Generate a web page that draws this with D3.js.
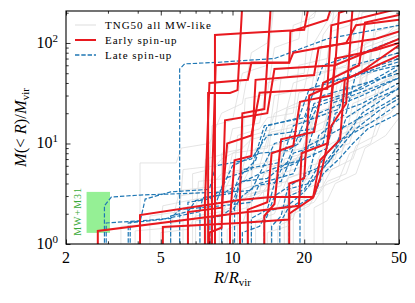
<!DOCTYPE html>
<html>
<head>
<meta charset="utf-8">
<script src="https://cdn.jsdelivr.net/npm/d3@7"></script>
<style>
  body { margin: 0; background: #fff; }
  svg { display: block; }
  text { font-family: "Liberation Serif", "DejaVu Serif", serif; }
</style>
</head>
<body>
<div id="chart"></div>
<script>
// axis ticks
var xTicks = [2, 5, 10, 20, 50];
var xMinorTicks = [3, 4, 6, 7, 8, 9, 30, 40];
var yTicks = [1, 10, 100];
var yTickExp = ["0", "1", "2"];
var yMinorTicks = [2, 3, 4, 5, 6, 7, 8, 9, 20, 30, 40, 50, 60, 70, 80, 90, 200];

var legendLabels = ["TNG50 all MW-like", "Early spin-up", "Late spin-up"];

// MW+M31 band: [R0, R1], [M0, M1]
var mwRange = [2.44, 3.06];
var mwMass = [1.29, 3.3];

// each curve: [R/Rvir, M(<R)/Mvir] points
var tngLines = [
  [[4.09,0.5],[4.09,6.4],[5.8,6.4],[6.1,9],[8,10],[9,20],[11,25],[12,80],[14,100],[15,260]],
  [[3.4,0.5],[3.4,1.5],[5,1.6],[5.1,2.4],[7,2.8],[9,3],[10,5],[13,6],[15,20],[22,30],[24,120],[30,260]],
  [[4.5,0.5],[4.5,1.9],[6,2.1],[6.2,5.5],[8.5,6],[9,7],[11,9],[12,11],[16,13],[18,40],[30,60],[35,260]],
  [[5.5,0.5],[5.5,1.6],[7,1.8],[7.2,4.2],[9.5,4.5],[10,8],[14,9],[15,30],[20,35],[22,100],[28,260]],
  [[6.2,0.5],[6.2,2.3],[8,2.5],[8.3,3.6],[11,4],[12,6],[16,7],[17,15],[25,20],[28,70],[40,110],[50,140]],
  [[7,0.5],[7,1.7],[9,1.9],[9.5,2.6],[12,3],[14,3.4],[15,6],[19,7],[21,14],[26,18],[28,50],[50,80]],
  [[7.8,0.5],[7.8,3.2],[10,3.5],[10.5,12],[13,14],[14,18],[18,20],[19,60],[25,70],[27,260]],
  [[8.8,0.5],[8.8,2],[10.5,2.3],[11,3.5],[13,4],[14,5.8],[18,6.5],[20,9],[24,11],[26,30],[36,40],[40,130],[50,150]],
  [[9.5,0.5],[9.5,1.4],[11,1.6],[12,2.8],[16,3.2],[17,4.5],[22,5.5],[24,9],[30,12],[32,25],[45,35],[50,60]],
  [[10.5,0.5],[10.5,4],[12,4.5],[12.5,9],[16,10],[17,22],[21,25],[22,50],[33,60],[35,200],[50,240]],
  [[11.5,0.5],[11.5,2.6],[13,3],[14,3.8],[17,4.2],[18,7],[22,8],[25,16],[33,20],[35,45],[50,70]],
  [[12.5,0.5],[12.5,1.7],[15,2],[16,3],[19,3.5],[21,6],[27,7],[29,14],[38,18],[42,40],[50,48]],
  [[13.5,0.5],[13.5,3.3],[16,3.8],[16.5,7],[20,8],[22,18],[28,22],[30,40],[40,55],[43,110],[50,130]],
  [[14.5,0.5],[14.5,2.2],[17,2.5],[18,4],[23,4.8],[25,8.5],[31,10],[34,22],[44,30],[50,38]],
  [[15.5,0.5],[15.5,1.5],[18,1.8],[19,2.7],[23,3.2],[26,5.5],[32,7],[36,15],[46,20],[50,26]],
  [[16.5,0.5],[16.5,2.9],[19,3.3],[21,5],[26,6],[28,12],[34,15],[37,35],[50,50]],
  [[18,0.5],[18,2],[21,2.4],[23,3.6],[28,4.4],[31,8],[38,10],[42,22],[50,28]],
  [[20,0.5],[20,3.5],[23,4],[25,7],[29,8.5],[32,16],[40,21],[44,45],[50,55]],
  [[5,0.5],[5,1.3],[6.5,1.4],[7,1.9],[9,2.1],[10,2.9],[13,3.3],[13.5,5],[17,5.8],[19,11],[24,14],[26,28],[34,34],[36,90],[50,120]],
  [[3.9,0.5],[3.9,1.35],[5.5,1.45],[6,3.4],[8,3.7],[9,5],[11,5.5],[12,12],[15,14],[16,45],[20,50],[21,180],[25,260]],
  [[6.8,0.5],[6.8,5],[8,5.5],[8.2,15],[10,17],[11,50],[14,60],[15,260]],
  [[9,0.5],[9,8],[11,8.8],[11.3,28],[14,31],[15,90],[19,110],[20,260]],
  [[12,0.5],[12,5.5],[14,6],[14.5,13],[18,14.5],[19,32],[24,38],[26,130],[31,150],[33,260]],
  [[22,0.5],[22,2.3],[25,2.7],[27,4],[33,5],[36,9],[44,12],[50,18]],
  [[8.2,0.5],[8.2,1.5],[9,1.7],[9.3,2.2],[11,2.5],[12,3.6],[15,4],[16,8],[20,9],[22,20],[27,24],[30,55],[38,65],[40,200],[50,230]],
  [[10,0.5],[10,2.1],[11.5,2.3],[12,3.2],[15,3.6],[16,5],[20,6],[21,10],[26,12],[28,26],[36,32],[38,85],[50,100]],
  [[14,0.5],[14,1.3],[17,1.5],[18,2.2],[22,2.6],[25,4.2],[30,5],[33,9.5],[40,12],[45,25],[50,32]],
  [[6,0.5],[6,3],[7.5,3.3],[7.7,7],[9.5,8],[10,14],[13,16],[14,40],[17,46],[18,150],[22,180],[23,260]],
  [[17,0.5],[17,4.5],[19,5],[20,10],[25,12],[27,30],[34,38],[36,100],[44,120],[50,160]],
  [[24,0.5],[24,5],[28,6],[30,13],[38,16],[40,35],[50,45]]
];

var lateLines = [
  [[2.9,0.5],[2.9,2.4],[3.1,2.93],[4.1,3.07],[9.76,3.3],[12,3.4],[13,5],[16,6],[20,7],[23,20],[35,30],[50,45]],
  [[2.95,0.5],[2.95,1.62],[4.1,1.7],[5.5,1.8],[6.0,2.2],[9,2.4],[12,2.6],[13,4],[18,5],[20,9],[30,15],[50,30]],
  [[3.65,0.5],[3.65,1.62],[5,1.75],[7.3,2.1],[7.5,2.9],[10,3.2],[11,5.5],[16,6.5],[18,15],[28,22],[32,60],[50,80]],
  [[3.72,0.5],[3.72,1.65],[4.1,1.7],[4.3,2.8],[5.5,3.3],[8,3.5],[8.5,6],[12,7],[14,12],[22,14],[24,40],[50,60]],
  [[6.0,0.5],[6.0,55],[6.3,62],[8.5,64],[15,70],[25,110],[50,150]],
  [[6.5,0.5],[6.5,2.6],[8,2.8],[9,3.5],[10,6],[13,8],[17,8.5],[19,10],[24,30],[50,50]],
  [[9.0,0.5],[9.0,1.9],[9.76,2.2],[10.7,4],[13,5],[15,10],[20,12],[22,25],[35,35],[50,55]],
  [[10.2,0.5],[10.2,2.5],[11,5],[12.5,6.8],[14,15],[19,18],[21,35],[30,45],[50,65]],
  [[12,0.5],[12,1.8],[14,2.2],[15,4],[16,5.5],[20,7],[25,9],[27,20],[35,25],[50,40]],
  [[13.6,0.5],[13.6,1.6],[15,3],[18,4],[21,5],[23,12],[30,20],[33,50],[50,70]],
  [[14.6,0.5],[14.6,1.5],[16,1.9],[17,3.5],[21,4],[26,7],[30,18],[40,28],[50,35]],
  [[15.8,0.5],[15.8,1.6],[17,2.2],[19,2.6],[20,5],[24,6],[29,11],[38,16],[50,25]],
  [[8.04,0.5],[8.04,1.8],[9.76,2],[11,3],[12.5,3.8],[16,4.2],[18,8],[24,10],[26,25],[50,45]],
  [[5.5,0.5],[5.5,1.9],[6.5,2.1],[7,2.7],[9,3.1],[11,4.2],[14,4.5],[17,6.5],[21,22],[30,30],[50,60]],
  [[11,0.5],[11,1.3],[13,1.5],[14,2.1],[17,2.4],[20,3.3],[23,5],[27,8],[33,14],[42,22],[50,28]],
  [[17.3,0.5],[17.3,3],[20,3.5],[23,6],[26,9],[30,12],[35,20],[45,30],[50,36]],
  [[19.2,0.5],[19.2,2.5],[22,3],[24,5],[28,7],[32,10],[37,14],[50,20]],
  [[7.3,0.5],[7.3,2.4],[8.5,2.5],[9.3,4.5],[12,5.5],[13.6,15],[20,18],[24,60],[35,80],[50,110]]
];

var earlyLines = [
  [[2.72,0.5],[2.72,1.35],[10.7,2.03],[19,2.4],[19.5,8],[25,10],[26.9,60],[50,110]],
  [[4.09,0.5],[4.09,1.94],[10.7,2.74],[14.6,2.93],[21.8,2.93],[23.3,6.8],[28.3,11],[29.6,43],[50,75]],
  [[5.1,0.5],[5.1,1.48],[10.7,1.62],[17.3,1.75],[17.3,4],[20,4.5],[21,30],[34,50],[50,95]],
  [[6.5,0.5],[6.5,2.08],[9,2.3],[9.5,10],[12,12],[13,32],[25,35],[26,150],[50,220]],
  [[7.66,0.5],[7.66,2.6],[8,40],[11.6,43],[12,64],[17.3,64],[17.5,130],[25,170],[27,300]],
  [[7.9,0.5],[7.9,31.8],[9.76,31.8],[10.5,34],[11,250]],
  [[8.2,0.5],[8.2,4],[8.5,60],[11,63],[17.3,63.5],[18,80],[30,100],[33,150],[50,170]],
  [[8.44,0.5],[8.44,120],[11,125],[20,135],[21,250]],
  [[9.76,0.5],[9.76,1.8],[10.2,6.8],[12,7.5],[12.5,43],[22,48],[23,90],[40,110],[50,130]],
  [[10.75,0.5],[10.75,3],[11,20],[13.6,22],[14.5,250]],
  [[11.6,0.5],[11.6,2.2],[14,2.6],[14.6,8],[18,9.5],[19.2,26],[26,30],[27,70],[40,85],[50,100]],
  [[13.6,0.5],[13.6,1.9],[15,2.5],[16,11],[22,13],[24,40],[34,60],[36,160],[50,190]],
  [[17.3,0.5],[17.3,2.0],[21.8,2.9],[23.3,4.5],[26,15],[30,25],[32,250]],
  [[8.0,0.5],[8.0,1.3],[9,1.45],[9.3,17],[14,20],[15,55],[27,60],[28,200],[40,260]]
];

var svgW = 415, svgH = 303;
var plotL = 66, plotT = 11, plotR = 399, plotB = 244;

var colTng = "#dddddd", colEarly = "#e8191f", colLate = "#1f77b4";

var svg = d3.select("#chart").append("svg")
  .attr("width", svgW).attr("height", svgH);

var x = d3.scaleLog().domain([2, 50]).range([plotL, plotR]);
var y = d3.scaleLog().domain([1, 208]).range([plotB, plotT]);

svg.append("defs").append("clipPath").attr("id", "clip")
  .append("rect")
  .attr("x", plotL).attr("y", plotT)
  .attr("width", plotR - plotL).attr("height", plotB - plotT);

var plot = svg.append("g").attr("clip-path", "url(#clip)");

// observed MW+M31 band
plot.append("rect")
  .attr("x", x(mwRange[0])).attr("y", y(mwMass[1]))
  .attr("width", x(mwRange[1]) - x(mwRange[0]))
  .attr("height", y(mwMass[0]) - y(mwMass[1]))
  .attr("fill", "#95f095");

var line = d3.line().x(function(d) { return x(d[0]); }).y(function(d) { return y(d[1]); });

plot.selectAll("path.tng").data(tngLines).enter().append("path")
  .attr("class", "tng").attr("d", line)
  .attr("fill", "none").attr("stroke", colTng).attr("stroke-width", 0.8);

plot.selectAll("path.late").data(lateLines).enter().append("path")
  .attr("class", "late").attr("d", line)
  .attr("fill", "none").attr("stroke", colLate).attr("stroke-width", 1.2)
  .attr("stroke-dasharray", "4.4,1.9");

plot.selectAll("path.early").data(earlyLines).enter().append("path")
  .attr("class", "early").attr("d", line)
  .attr("fill", "none").attr("stroke", colEarly).attr("stroke-width", 2);

// MW+M31 label
svg.append("text")
  .attr("transform", "translate(81," + (y(Math.sqrt(mwMass[0] * mwMass[1])) - 1) + ") rotate(-90)")
  .attr("text-anchor", "middle")
  .attr("font-size", "10px").attr("letter-spacing", "1px")
  .attr("fill", "#3aaa3a")
  .text("MW+M31");

// ticks, all pointing inward
function tickAxis(axis, vals, size, tr) {
  svg.append("g").attr("transform", tr)
    .call(axis.tickValues(vals).tickSize(-size).tickFormat(""))
    .call(function(g) { g.select(".domain").remove(); })
    .selectAll("line").attr("stroke", "#000").attr("stroke-width", 0.8);
}
tickAxis(d3.axisBottom(x), xTicks, 4.5, "translate(0," + plotB + ")");
tickAxis(d3.axisBottom(x), xMinorTicks, 2.7, "translate(0," + plotB + ")");
tickAxis(d3.axisTop(x), xTicks, 4.5, "translate(0," + plotT + ")");
tickAxis(d3.axisTop(x), xMinorTicks, 2.7, "translate(0," + plotT + ")");
tickAxis(d3.axisLeft(y), yTicks, 4.5, "translate(" + plotL + ",0)");
tickAxis(d3.axisLeft(y), yMinorTicks, 2.7, "translate(" + plotL + ",0)");
tickAxis(d3.axisRight(y), yTicks, 4.5, "translate(" + plotR + ",0)");
tickAxis(d3.axisRight(y), yMinorTicks, 2.7, "translate(" + plotR + ",0)");

// frame
svg.append("rect")
  .attr("x", plotL).attr("y", plotT)
  .attr("width", plotR - plotL).attr("height", plotB - plotT)
  .attr("fill", "none").attr("stroke", "#000").attr("stroke-width", 1.1);

// tick labels
svg.selectAll("text.xl").data(xTicks).enter().append("text")
  .attr("class", "xl")
  .attr("x", function(d) { return x(d); }).attr("y", plotB + 19)
  .attr("text-anchor", "middle").attr("font-size", "16px")
  .text(function(d) { return d; });

var yl = svg.selectAll("text.yl").data(yTicks).enter().append("text")
  .attr("class", "yl")
  .attr("x", plotL - 8).attr("y", function(d) { return y(d) + 5; })
  .attr("text-anchor", "end").attr("font-size", "16px");
yl.append("tspan").text("10");
yl.append("tspan").attr("dy", -6).attr("font-size", "11px")
  .text(function(d, i) { return yTickExp[i]; });

// axis titles
var xt = svg.append("text")
  .attr("x", (plotL + plotR) / 2).attr("y", 283)
  .attr("text-anchor", "middle").attr("font-size", "16.5px");
xt.append("tspan").attr("font-style", "italic").text("R");
xt.append("tspan").text("/");
xt.append("tspan").attr("font-style", "italic").text("R");
xt.append("tspan").attr("dy", 3).attr("font-size", "11px").text("vir");

var ytl = svg.append("text")
  .attr("transform", "translate(26," + (plotT + plotB) / 2 + ") rotate(-90)")
  .attr("text-anchor", "middle").attr("font-size", "16.5px");
ytl.append("tspan").attr("font-style", "italic").text("M");
ytl.append("tspan").text("(< ");
ytl.append("tspan").attr("font-style", "italic").text("R");
ytl.append("tspan").text(")/");
ytl.append("tspan").attr("font-style", "italic").text("M");
ytl.append("tspan").attr("dy", 3).attr("font-size", "11px").text("vir");

// legend
var legendStyle = [
  { stroke: colTng, width: 1, dash: null },
  { stroke: colEarly, width: 2, dash: null },
  { stroke: colLate, width: 1.3, dash: "4.4,1.9" }
];
var lg = svg.append("g").attr("transform", "translate(75,25)");
legendLabels.forEach(function(lab, i) {
  var row = lg.append("g").attr("transform", "translate(0," + (i * 15) + ")");
  row.append("line").attr("x1", 0).attr("x2", 21).attr("y1", 0).attr("y2", 0)
    .attr("stroke", legendStyle[i].stroke).attr("stroke-width", legendStyle[i].width)
    .attr("stroke-dasharray", legendStyle[i].dash);
  row.append("text").attr("x", 30).attr("y", 3.5)
    .attr("font-size", "11px").attr("letter-spacing", "1px")
    .text(lab);
});
</script>
</body>
</html>
